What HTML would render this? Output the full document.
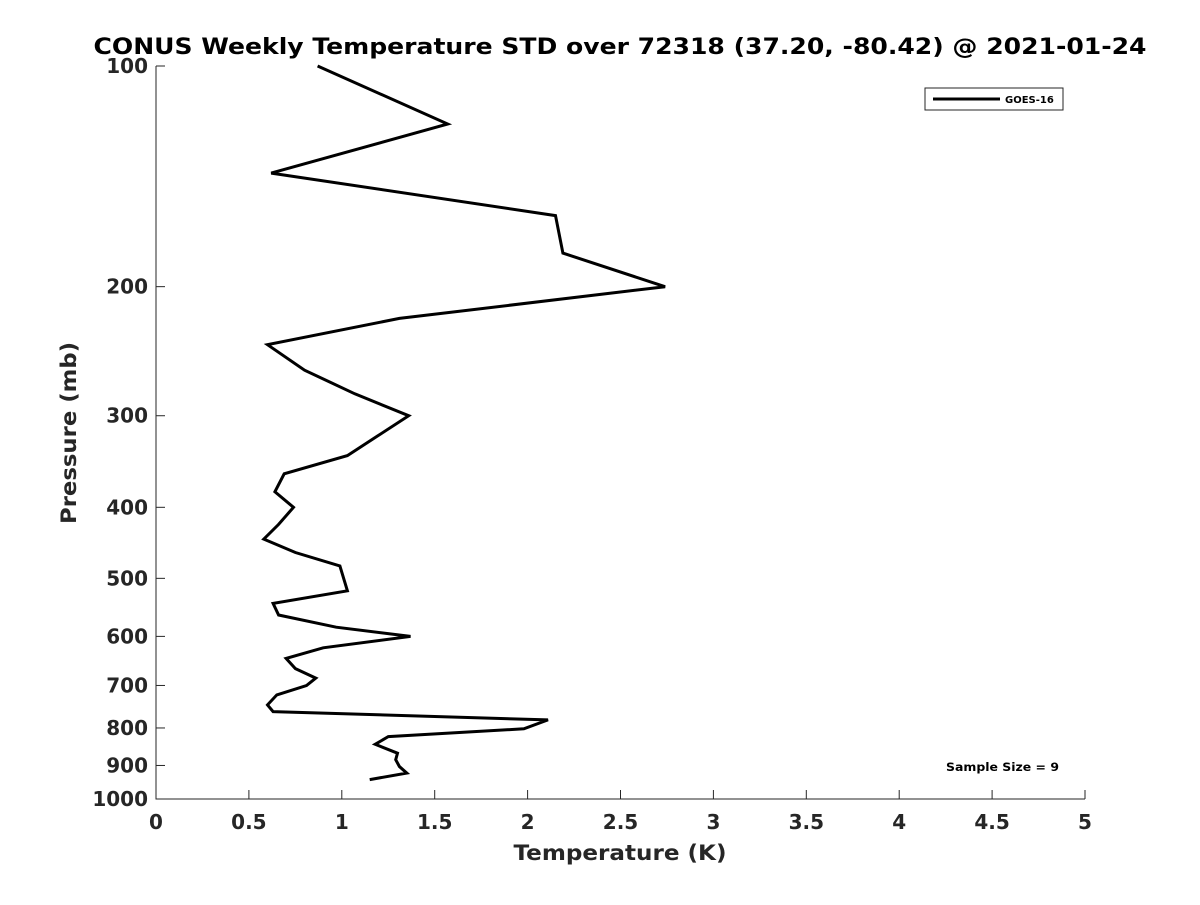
<!DOCTYPE html>
<html><head><meta charset="utf-8"><style>
body{margin:0;background:#fff;}
svg text{font-family:"DejaVu Sans","Liberation Sans",sans-serif;font-weight:bold;fill:#262626;}
</style></head><body>
<svg id="chart" width="1200" height="900" xmlns="http://www.w3.org/2000/svg">
<rect width="1200" height="900" fill="#fff"/>
<text x="620" y="54" text-anchor="middle" font-size="22" textLength="1053" lengthAdjust="spacingAndGlyphs" style="fill:#000">CONUS Weekly Temperature STD over 72318 (37.20, -80.42) @ 2021-01-24</text>
<g id="axes"></g>
<text x="620" y="860" text-anchor="middle" font-size="21" textLength="213" lengthAdjust="spacingAndGlyphs">Temperature (K)</text>
<text transform="translate(76,433) rotate(-90)" text-anchor="middle" font-size="21" textLength="182" lengthAdjust="spacingAndGlyphs">Pressure (mb)</text>
<g>
<rect x="925" y="88" width="138" height="22" fill="#fff" stroke="#262626" stroke-width="1"/>
<line x1="933" y1="99" x2="1000" y2="99" stroke="#000" stroke-width="3"/>
<text x="1005" y="103" font-size="10" style="fill:#000">GOES-16</text>
</g>
<text x="946" y="771" font-size="11.5" textLength="113" lengthAdjust="spacingAndGlyphs" style="fill:#000">Sample Size = 9</text>
</svg>
<script>
const temps=[0.87,1.57,0.62,2.15,2.19,2.74,1.31,0.60,0.80,1.07,1.36,1.19,1.03,0.69,0.64,0.74,0.66,0.58,0.75,0.99,1.03,0.63,0.66,0.97,1.37,0.90,0.70,0.75,0.86,0.81,0.65,0.60,0.63,2.11,1.98,1.25,1.18,1.30,1.29,1.31,1.35,1.15];
const pressures=[100,120,140,160,180,200,221,240,260,280,300,320,340,360,381,400,422,442,461,481,520,541,561,583,600,622,643,664,684,700,721,744,760,780,802,822,842,866,884,903,922,941];
const xTicks=[0,0.5,1,1.5,2,2.5,3,3.5,4,4.5,5];
const xTickLabels=["0","0.5","1","1.5","2","2.5","3","3.5","4","4.5","5"];
const yTicks=[100,200,300,400,500,600,700,800,900,1000];
const yTickLabels=["100","200","300","400","500","600","700","800","900","1000"];
const X0=156,X1=1085,Y0=66,Y1=799;
function xs(v){return X0+(v-0)/(5-0)*(X1-X0);}
function ys(p){return Y0+(Math.log10(p)-2)*(Y1-Y0);}
const NS="http://www.w3.org/2000/svg";
const svg=document.getElementById('chart');
const g=document.getElementById('axes');
function mk(t,a,parent){const e=document.createElementNS(NS,t);for(const k in a)e.setAttribute(k,a[k]);(parent||g).appendChild(e);return e;}
const ax=mk('path',{d:`M${X0},${Y0}V${Y1}H${X1}`,fill:'none',stroke:'#262626','stroke-width':1});


xTicks.forEach((v,i)=>{const x=xs(v);
const t=mk('line',{x1:x,x2:x,y1:Y1,y2:Y1-9,stroke:'#262626'});


const l=mk('text',{x:x,y:Y1+30,'text-anchor':'middle','font-size':20});l.textContent=xTickLabels[i];

});
yTicks.forEach((p,i)=>{const y=ys(p);
const t=mk('line',{x1:X0,x2:X0+9,y1:y,y2:y,stroke:'#262626'});


const l=mk('text',{x:X0-8,y:y+7,'text-anchor':'end','font-size':20});l.textContent=yTickLabels[i];

});
const pts=temps.map((t,i)=>xs(t).toFixed(1)+','+ys(pressures[i]).toFixed(1)).join(' ');
const line=mk('polyline',{points:pts,fill:'none',stroke:'#000','stroke-width':3,'stroke-linejoin':'miter'});


</script>
</body></html>
